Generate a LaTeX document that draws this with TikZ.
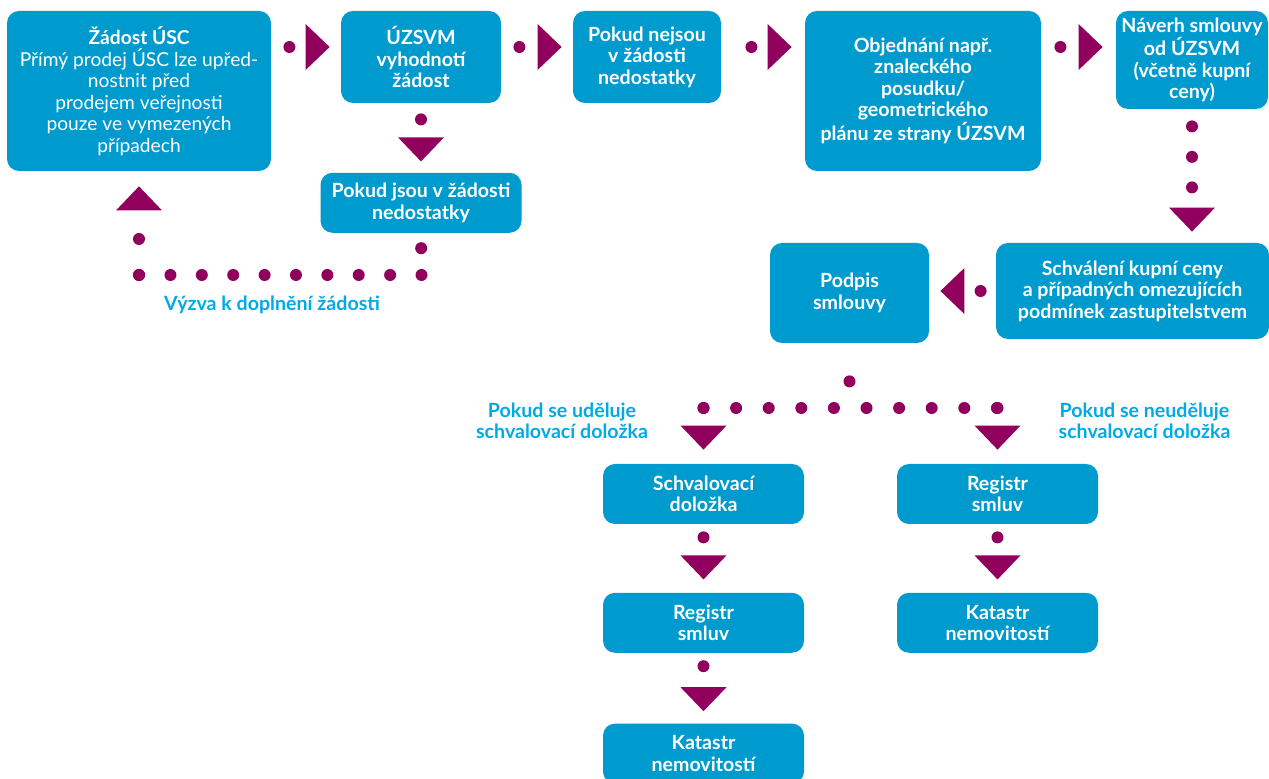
\documentclass[tikz,border=0pt]{standalone}
\usepackage{fontspec}
\setmainfont{Lato}
\usetikzlibrary{arrows.meta,positioning}
\definecolor{boxblue}{RGB}{0,155,206}
\definecolor{plum}{RGB}{145,0,92}
\definecolor{notecyan}{RGB}{0,170,230}

\begin{document}
\begin{tikzpicture}[x=0.5pt, y=-0.5pt]
\tikzstyle{stage}=[rectangle, rounded corners=6pt, fill=boxblue, text=white, align=center, inner sep=0pt, font=\bfseries\fontsize{9.8}{10.75}\selectfont]
\tikzstyle{note}=[text=notecyan, align=center, font=\bfseries\fontsize{9.8}{10.75}\selectfont]
\tikzstyle{dotrow}=[plum, line width=6pt, line cap=round, dash pattern=on 0pt off 16pt]
\tikzstyle{flow}=[dotrow, -{Triangle[length=12pt, width=23pt, line width=0pt]}]
\useasboundingbox (0,0) rectangle (1269,779);
\fill[white] (0,0) rectangle (1269,779);

% top row
\node[stage, minimum width=132pt, minimum height=80pt, font=\fontsize{9.6}{10.75}\selectfont] (zadost) at (139,91)
  {\textbf{Žádost ÚSC}\\Přímý prodej ÚSC lze upřed-\\nostnit před\\prodejem veřejnosti\\pouze ve vymezených\\případech};
\node[stage, minimum width=80pt, minimum height=46pt] (hodnoceni) at (421,57) {ÚZSVM\\vyhodnotí\\žádost};
\node[stage, minimum width=74pt, minimum height=46pt] (bezvad) at (647,57) {Pokud nejsou\\v žádosti\\nedostatky};
\node[stage, minimum width=118pt, minimum height=80pt] (posudek) at (923,91) {Objednání např.\\znaleckého\\posudku/\\geometrického\\plánu ze strany ÚZSVM};
\node[stage, minimum width=76pt, minimum height=49pt] (navrh) at (1192,60) {Náverh smlouvy\\od ÚZSVM\\(včetně kupní\\ceny)};
\node[stage, minimum width=100.5pt, minimum height=30pt] (vady) [below=34.5pt of hodnoceni] {Pokud jsou v žádosti\\nedostatky};

% middle
\node[stage, minimum width=136.5pt, minimum height=48pt] (schvaleni) at (1132.5,291) {Schválení kupní ceny\\a případných omezujících\\podmínek zastupitelstvem};
\node[stage, minimum width=79.5pt, minimum height=50pt] (podpis) at (849.5,293) {Podpis\\smlouvy};

% bottom columns
\node[stage, minimum width=100.5pt, minimum height=30pt] (dolozka) at (703.5,494) {Schvalovací\\doložka};
\node[stage, minimum width=100.5pt, minimum height=30pt] (registrL) [below=34pt of dolozka] {Registr\\smluv};
\node[stage, minimum width=100.5pt, minimum height=30pt] (katastrL) [below=35pt of registrL] {Katastr\\nemovitostí};
\node[stage, minimum width=100.5pt, minimum height=30pt] (registrR) at (997.5,494) {Registr\\smluv};
\node[stage, minimum width=100.5pt, minimum height=30pt] (katastrR) [below=34pt of registrR] {Katastr\\nemovitostí};

\node[note] (vyzva) at (272,305) {Výzva k doplnění žádosti};
\node[note] (udeluje) at (562,421) {Pokud se uděluje\\schvalovací doložka};
\node[note] (neudeluje) at (1144.5,421) {Pokud se neuděluje\\schvalovací doložka};

\coordinate (top) at (0,47);
\coordinate (fbR) at (421.5,275);
\coordinate (fbL) at (139,275);
\coordinate (splitL) at (703.5,408);
\coordinate (splitR) at (997.5,408);

\draw[flow, shorten <=9pt, shorten >=5.5pt] (zadost.east |- top) -- (hodnoceni.west |- top);
\draw[flow, shorten <=9pt, shorten >=5.5pt] (hodnoceni.east |- top) -- (bezvad.west |- top);
\draw[flow, shorten <=15pt, shorten >=6.5pt] (bezvad.east |- top) -- (posudek.west |- top);
\draw[flow, shorten <=9.5pt, shorten >=6.5pt] (posudek.east |- top) -- (navrh.west |- top);
\draw[flow, shorten <=8pt, shorten >=5.5pt] (hodnoceni) -- (vady);
\draw[flow, dash pattern=on 0pt off 15.25pt, shorten <=8.5pt, shorten >=5.5pt] (navrh.south) -- (navrh.south |- schvaleni.north);
\draw[flow, shorten <=7.5pt, shorten >=5.5pt] (schvaleni.west) -- (podpis.east |- schvaleni.west);

% feedback loop
\draw[dotrow, dash pattern=on 0pt off 14pt, shorten <=7.5pt] (vady.south) -- (fbR);
\draw[dotrow, dash pattern=on 0pt off 15.69pt] (fbR) -- (fbL);
\draw[flow, dash pattern=on 0pt off 18pt, shorten >=7.5pt] (fbL) -- (zadost.south);

% split after signature
\draw[dotrow, dash pattern=on 0pt off 20pt, shorten <=19pt] (podpis.south) -- (podpis.south |- splitL);
\draw[dotrow, dash pattern=on 0pt off 16.3pt] (splitL) -- (splitR);
\draw[flow, shorten >=7pt] (splitL) -- (dolozka.north);
\draw[flow, shorten >=7pt] (splitR) -- (registrR.north);
\draw[flow, shorten <=6.5pt, shorten >=6.5pt] (dolozka) -- (registrL);
\draw[flow, shorten <=6.5pt, shorten >=6pt] (registrL) -- (katastrL);
\draw[flow, shorten <=6.5pt, shorten >=6.5pt] (registrR) -- (katastrR);
\end{tikzpicture}
\end{document}
